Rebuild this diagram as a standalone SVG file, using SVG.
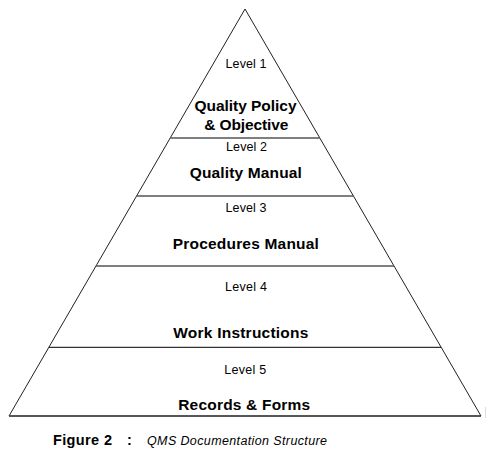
<svg xmlns="http://www.w3.org/2000/svg" width="499" height="459" viewBox="0 0 499 459">
<style>
.lv{font-family:"Liberation Sans",Arial,sans-serif;font-size:12.5px;fill:#000;text-anchor:middle}
.tt{font-family:"Liberation Sans",Arial,sans-serif;font-size:15.5px;font-weight:bold;fill:#000;text-anchor:middle}
.div{stroke:#555;stroke-width:1.5;fill:none}
</style>
<rect width="499" height="459" fill="#fff"/>
<g id="connectors">
<polygon points="245,9 9,416 481,416" fill="#fff" stroke="#222" stroke-width="1"/>
<line class="div" x1="170.2" y1="138" x2="319.8" y2="138"/>
<line class="div" x1="136.6" y1="196" x2="353.4" y2="196"/>
<line class="div" x1="96" y1="266" x2="394" y2="266"/>
<line x1="49" y1="347.3" x2="441" y2="347.3" stroke="#000" stroke-width="1"/>
<line x1="9" y1="416" x2="481" y2="416" stroke="#444" stroke-width="1.5"/>
<line x1="485.5" y1="407" x2="485.5" y2="418" stroke="#ddd" stroke-width="1"/>
</g>
<g id="level1">
<text class="lv" x="246" y="68" textLength="41" lengthAdjust="spacing">Level 1</text>
<text class="tt" x="245.5" y="111" textLength="102" lengthAdjust="spacing">Quality Policy</text>
<text class="tt" x="246.3" y="130" textLength="84" lengthAdjust="spacing">&amp; Objective</text>
</g>
<g id="level2">
<text class="lv" x="246.5" y="151" textLength="41" lengthAdjust="spacing">Level 2</text>
<text class="tt" x="245.8" y="178" textLength="112" lengthAdjust="spacing">Quality Manual</text>
</g>
<g id="level3">
<text class="lv" x="246" y="212" textLength="41" lengthAdjust="spacing">Level 3</text>
<text class="tt" x="245.8" y="249" textLength="146" lengthAdjust="spacing">Procedures Manual</text>
</g>
<g id="level4">
<text class="lv" x="246" y="291" textLength="42" lengthAdjust="spacing">Level 4</text>
<text class="tt" x="240.8" y="338" textLength="135" lengthAdjust="spacing">Work Instructions</text>
</g>
<g id="level5">
<text class="lv" x="245.3" y="374" textLength="42" lengthAdjust="spacing">Level 5</text>
<text class="tt" x="244.2" y="410" textLength="132" lengthAdjust="spacing">Records &amp; Forms</text>
</g>
<g id="caption">
<text x="53" y="445" font-family="Liberation Sans,Arial,sans-serif" font-size="14.5" font-weight="bold" textLength="59" lengthAdjust="spacing">Figure 2</text>
<text x="127" y="445" font-family="Liberation Sans,Arial,sans-serif" font-size="14.5" font-weight="bold">:</text>
<text x="147" y="445" font-family="Liberation Sans,Arial,sans-serif" font-size="12.5" font-style="italic" textLength="180" lengthAdjust="spacing">QMS Documentation Structure</text>
</g>
</svg>
